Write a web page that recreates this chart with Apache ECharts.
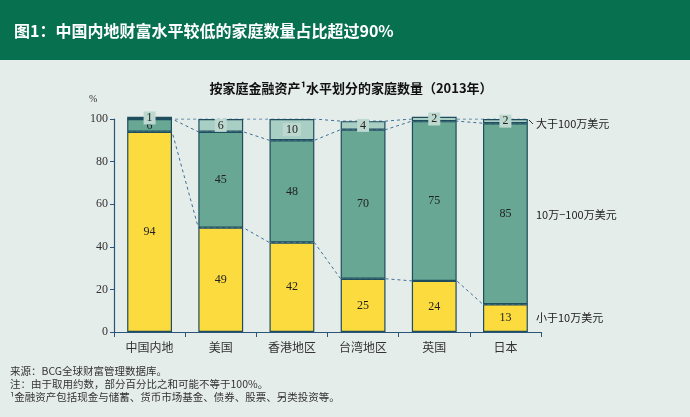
<!DOCTYPE html>
<html><head><meta charset="utf-8">
<script src="https://cdn.jsdelivr.net/npm/echarts@6/dist/echarts.min.js"></script>
<style>html,body{margin:0;padding:0;background:#E5EDEA;}#c{width:690px;height:417px;}</style>
</head><body><div id="c"></div>
<script>
const categories = ['中国内地','美国','香港地区','台湾地区','英国','日本'];
const below100k = [94,49,42,25,24,13];
const mid100kTo1m = [6,45,48,70,75,85];
const above1m = [1,6,10,4,2,2];
const yTicks = [0,20,40,60,80,100];
const seriesNames = ['小于10万美元','10万−100万美元','大于100万美元'];

const CJK = '"Noto Sans CJK SC", sans-serif';
const SERIF = '"Liberation Serif", "DejaVu Serif", serif';
const border = '#1E4D5E';
const halfBar = 0.316;

const lvl1 = below100k.slice();
const lvl2 = below100k.map((v,i)=>v+mid100kTo1m[i]);
const lvl3 = below100k.map((v,i)=>Math.min(yTicks[yTicks.length-1], v+mid100kTo1m[i]+above1m[i]));
function pts(arr){ const out=[]; arr.forEach((v,i)=>{ out.push([i+0.5-halfBar, v]); out.push([i+0.5+halfBar, v]); }); return out; }

function barSeries(name, data, color, labelExtra){
  return {
    name, type:'bar', stack:'s', data, barWidth:'63%', z:3, clip:false,
    itemStyle:{color, borderColor:border, borderWidth:1.2},
    label:Object.assign({show:true, position:'inside', color:'#222', fontFamily:SERIF, fontSize:12}, labelExtra||{})
  };
}
function lineSeries(data){
  return {type:'line', xAxisIndex:1, yAxisIndex:0, data, symbol:'none', z:1, silent:true,
    lineStyle:{color:'#3E6F98', width:1, type:[3,3]}};
}

const chart = echarts.init(document.getElementById('c'));
chart.setOption({
  backgroundColor:'#E5EDEA',
  animation:false,
  grid:{left:114, right:149, top:119, bottom:85, containLabel:false},
  xAxis:[
    {type:'category', data:categories, boundaryGap:true,
     axisLine:{lineStyle:{color:'#2A5478', width:1.2}},
     axisTick:{show:true, length:5, lineStyle:{color:'#2A5478'}},
     axisLabel:{color:'#333', fontFamily:CJK, fontSize:12, margin:9}},
    {type:'value', min:0, max:categories.length, show:false}
  ],
  yAxis:{type:'value', min:0, max:100, interval:20,
    axisLine:{show:true, lineStyle:{color:'#2A5478', width:1.2}},
    axisTick:{show:true, length:4, lineStyle:{color:'#2A5478'}},
    axisLabel:{color:'#333', fontFamily:SERIF, fontSize:12, margin:6},
    splitLine:{show:false}},
  series:[
    barSeries(seriesNames[0], below100k, '#FCDB3F'),
    barSeries(seriesNames[1], mid100kTo1m, '#67A794'),
    barSeries(seriesNames[2], above1m, '#A9CFC5', {backgroundColor:'#BCD8CF', padding:[0,3,0,3], lineHeight:13}),
    lineSeries(pts(lvl1)),
    lineSeries(pts(lvl2)),
    lineSeries(pts(lvl3))
  ],
  graphic:[
    {type:'rect', shape:{x:0,y:0,width:690,height:60}, style:{fill:'#07704F'}, silent:true},
    {type:'text', x:14, y:31, style:{text:'图1：中国内地财富水平较低的家庭数量占比超过90%', fill:'#fff', font:'bold 16px '+CJK, textVerticalAlign:'middle'}},
    {type:'text', x:351, y:88, style:{text:'按家庭金融资产¹水平划分的家庭数量（2013年）', fill:'#111', font:'bold 13px '+CJK, textAlign:'center', textVerticalAlign:'middle'}},
    {type:'text', x:89, y:99, style:{text:'%', fill:'#333', font:'10px '+SERIF, textVerticalAlign:'middle'}},
    {type:'line', shape:{x1:529,y1:120,x2:533,y2:124}, style:{stroke:'#333', lineWidth:1}},
    {type:'text', x:536, y:124, style:{text:seriesNames[2], fill:'#222', font:'11px '+CJK, textVerticalAlign:'middle'}},
    {type:'text', x:536, y:215, style:{text:seriesNames[1], fill:'#222', font:'11px '+CJK, textVerticalAlign:'middle'}},
    {type:'text', x:536, y:318, style:{text:seriesNames[0], fill:'#222', font:'11px '+CJK, textVerticalAlign:'middle'}},
    {type:'text', x:10, y:371, style:{text:'来源：BCG全球财富管理数据库。', fill:'#333', font:'10.5px '+CJK, textVerticalAlign:'middle'}},
    {type:'text', x:10, y:384, style:{text:'注：由于取用约数，部分百分比之和可能不等于100%。', fill:'#333', font:'10.5px '+CJK, textVerticalAlign:'middle'}},
    {type:'text', x:10, y:397, style:{text:'¹金融资产包括现金与储蓄、货币市场基金、债券、股票、另类投资等。', fill:'#333', font:'10.5px '+CJK, textVerticalAlign:'middle'}}
  ]
});
</script></body></html>
